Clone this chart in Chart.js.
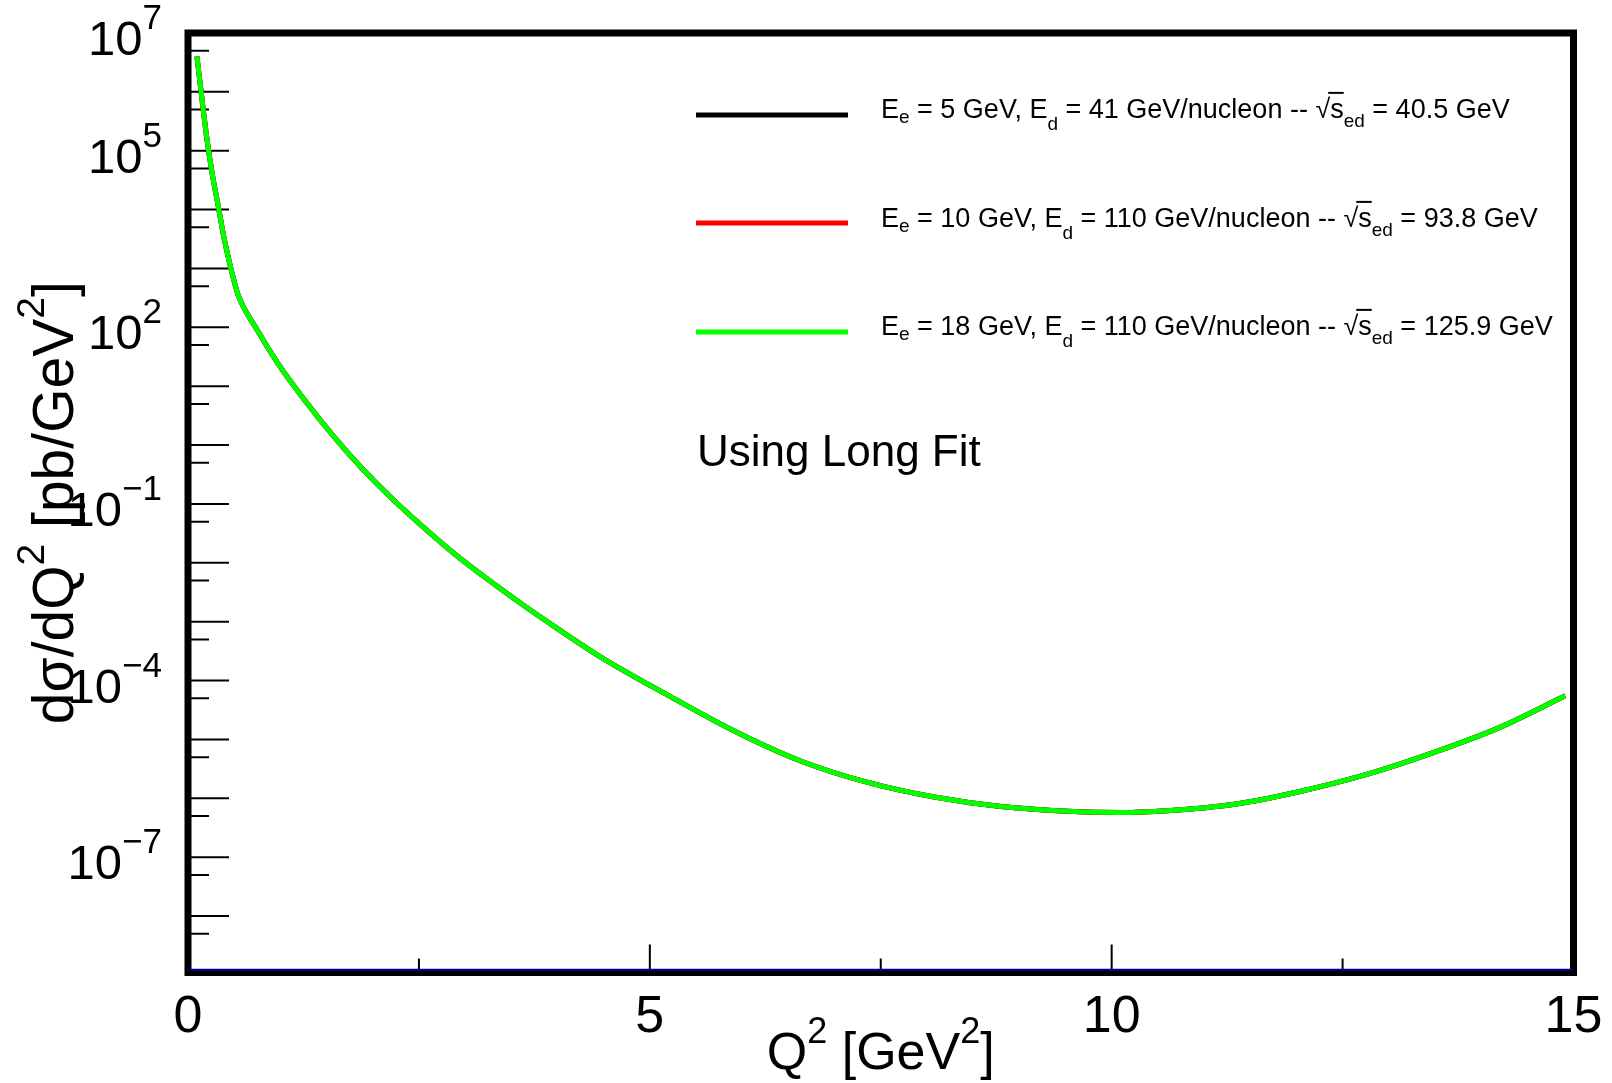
<!DOCTYPE html>
<html>
<head>
<meta charset="utf-8">
<script src="https://cdn.jsdelivr.net/npm/chart.js@4.4.0/dist/chart.umd.min.js"></script>
<style>
html,body{margin:0;padding:0;background:#ffffff;}
#wrap{width:1612px;height:1083px;position:relative;}
</style>
</head>
<body>
<div id="wrap"><canvas id="c" width="1612" height="1083"></canvas></div>
<script>
// ---------------- data ----------------
const q2 = [0.097, 0.151, 0.205, 0.26, 0.332, 0.386, 0.458, 0.50, 0.545, 0.728, 0.973, 1.262, 1.586, 1.875, 2.163, 2.523, 2.884, 3.244, 3.605, 3.965, 4.50, 5.198, 5.919, 6.64, 7.36, 8.08, 8.80, 9.52, 10.1, 10.6, 11.33, 12.05, 12.77, 13.49, 14.21, 14.91];

// E_e = 18 GeV, E_d = 110 GeV/nucleon (visible green curve), pb/GeV^2
const sigmaE18 = [3.98e6, 7.6e5, 1.58e5, 4.27e4, 1.05e4, 3550, 1100, 603, 347, 102, 24.5, 5.82, 1.35, 0.417, 0.145, 0.0437, 0.0143, 5.25e-3, 2.04e-3, 8.32e-4, 2.34e-4, 5.62e-5, 1.38e-5, 4.27e-6, 1.86e-6, 1.05e-6, 7.24e-7, 6.03e-7, 5.75e-7, 6.17e-7, 7.94e-7, 1.32e-6, 2.57e-6, 6.03e-6, 1.62e-5, 5.5e-5];
// E_e = 10 GeV and E_e = 5 GeV curves lie under the green one in the picture
const sigmaE10 = [3.98e6, 7.6e5, 1.58e5, 4.27e4, 1.05e4, 3550, 1100, 603, 347, 102, 24.5, 5.82, 1.35, 0.417, 0.145, 0.0437, 0.0143, 5.25e-3, 2.04e-3, 8.32e-4, 2.34e-4, 5.62e-5, 1.38e-5, 4.27e-6, 1.86e-6, 1.05e-6, 7.24e-7, 6.03e-7, 5.75e-7, 6.17e-7, 7.94e-7, 1.32e-6, 2.57e-6, 6.03e-6, 1.62e-5, 5.5e-5];
const sigmaE5 = [3.98e6, 7.6e5, 1.58e5, 4.27e4, 1.05e4, 3550, 1100, 603, 347, 102, 24.5, 5.82, 1.35, 0.417, 0.145, 0.0437, 0.0143, 5.25e-3, 2.04e-3, 8.32e-4, 2.34e-4, 5.62e-5, 1.38e-5, 4.27e-6, 1.86e-6, 1.05e-6, 7.24e-7, 6.03e-7, 5.75e-7, 6.17e-7, 7.94e-7, 1.32e-6, 2.57e-6, 6.03e-6, 1.62e-5, 5.5e-5];

// dark blue line along the bottom of the frame
const baseQ2 = [0, 15];
const baseSigma = [1.22e-9, 1.22e-9];

const seriesLabels = [
  'Ee = 5 GeV, Ed = 41 GeV/nucleon -- √sed = 40.5 GeV',
  'Ee = 10 GeV, Ed = 110 GeV/nucleon -- √sed = 93.8 GeV',
  'Ee = 18 GeV, Ed = 110 GeV/nucleon -- √sed = 125.9 GeV'
];
const beamEe = ['5', '10', '18'];
const beamEd = ['41', '110', '110'];
const sqrtSed = ['40.5', '93.8', '125.9'];
const seriesColors = ['#000000', '#ff0000', '#00ff00'];

// axes
const xMin = 0, xMax = 15;
const yMin = 1.1e-9, yMax = 1e7;
const xMajorTicks = [0, 5, 10, 15];
const xMinorTicks = [2.5, 7.5, 12.5];
const xTickLabels = ['0', '5', '10', '15'];
const yMajorTicks = [1e-8, 1e-7, 1e-6, 1e-5, 1e-4, 1e-3, 1e-2, 1e-1, 1, 10, 100, 1e3, 1e4, 1e5, 1e6, 1e7];
const yMinorTicks = [5e-9, 5e-8, 5e-7, 5e-6, 5e-5, 5e-4, 5e-3, 5e-2, 0.5, 5, 50, 500, 5e3, 5e4, 5e5, 5e6];
const yLabelTicks = [1e7, 1e5, 1e2, 1e-1, 1e-4, 1e-7];
const yLabelExps = ['7', '5', '2', '\u22121', '\u22124', '\u22127'];
const noteText = 'Using Long Fit';

// ---------------- helpers ----------------
const FONT = '"Liberation Sans", Arial, Helvetica, sans-serif';
function pts(xs, ys){ return xs.map((x, i) => ({x: x, y: ys[i]})); }

function richWidth(ctx, parts){
  let w = 0;
  for (const p of parts){
    ctx.font = p.size + 'px ' + FONT;
    if (p.sqrt){
      w += ctx.measureText('\u221a').width + ctx.measureText(p.sqrt).width;
    } else {
      w += ctx.measureText(p.t).width;
    }
  }
  return w;
}
function drawRich(ctx, x, y, parts){
  let cx = x;
  ctx.textAlign = 'left';
  ctx.textBaseline = 'alphabetic';
  for (const p of parts){
    ctx.font = p.size + 'px ' + FONT;
    if (p.sqrt){
      const rw = ctx.measureText('\u221a').width;
      const sw = ctx.measureText(p.sqrt).width;
      ctx.fillText('\u221a', cx, y);
      ctx.fillText(p.sqrt, cx + rw, y);
      ctx.save();
      ctx.lineWidth = 2;
      ctx.beginPath();
      ctx.moveTo(cx + rw - 2, y - p.size * 0.93);
      ctx.lineTo(cx + rw + sw, y - p.size * 0.93);
      ctx.stroke();
      ctx.restore();
      cx += rw + sw;
    } else {
      ctx.fillText(p.t, cx, y + (p.off || 0));
      cx += ctx.measureText(p.t).width;
    }
  }
  return cx - x;
}

const decor = {
  id: 'decor',
  beforeDatasetsDraw(chart){
    const {ctx, chartArea: a, scales: {x, y}} = chart;
    ctx.save();
    ctx.strokeStyle = '#000';
    ctx.lineWidth = 2;
    ctx.beginPath();
    yMajorTicks.forEach(v => { const py = y.getPixelForValue(v); ctx.moveTo(a.left, py); ctx.lineTo(a.left + 41, py); });
    yMinorTicks.forEach(v => { const py = y.getPixelForValue(v); ctx.moveTo(a.left, py); ctx.lineTo(a.left + 21, py); });
    xMajorTicks.forEach(v => { const px = x.getPixelForValue(v); ctx.moveTo(px, a.bottom); ctx.lineTo(px, a.bottom - 28); });
    xMinorTicks.forEach(v => { const px = x.getPixelForValue(v); ctx.moveTo(px, a.bottom); ctx.lineTo(px, a.bottom - 14); });
    ctx.stroke();
    ctx.lineWidth = 7;
    ctx.strokeRect(a.left, a.top, a.right - a.left, a.bottom - a.top);
    ctx.restore();
  },
  afterDraw(chart){
    const {ctx, chartArea: a, scales: {x, y}} = chart;
    ctx.save();
    ctx.fillStyle = '#000';
    // y tick labels 10^n
    yLabelTicks.forEach((v, i) => {
      const py = y.getPixelForValue(v);
      const base = py + 22;
      ctx.font = '35px ' + FONT;
      ctx.textAlign = 'right';
      ctx.textBaseline = 'alphabetic';
      const sw = ctx.measureText(yLabelExps[i]).width;
      ctx.fillText(yLabelExps[i], 162, base - 26);
      ctx.font = '49px ' + FONT;
      ctx.fillText('10', 162 - sw, base);
    });
    // x tick labels
    ctx.font = '52px ' + FONT;
    ctx.textAlign = 'center';
    xMajorTicks.forEach((v, i) => {
      ctx.fillText(xTickLabels[i], x.getPixelForValue(v), 1032);
    });
    // x title
    const xt = [
      {t: 'Q', size: 52}, {t: '2', size: 36, off: -26},
      {t: ' [GeV', size: 52}, {t: '2', size: 36, off: -26}, {t: ']', size: 52}
    ];
    const xw = richWidth(ctx, xt);
    drawRich(ctx, (a.left + a.right) / 2 - xw / 2, 1069, xt);
    // y title
    const yt = [
      {t: 'd\u03c3/dQ', size: 57}, {t: '2', size: 39, off: -29},
      {t: ' [pb/GeV', size: 57}, {t: '2', size: 39, off: -29}, {t: ']', size: 57}
    ];
    ctx.save();
    ctx.translate(73, (a.top + a.bottom) / 2);
    ctx.rotate(-Math.PI / 2);
    const yw = richWidth(ctx, yt);
    drawRich(ctx, -yw / 2, 0, yt);
    ctx.restore();
    // legend
    const lineY = [115, 223, 332];
    const textY = [118, 227, 335];
    for (let i = 0; i < 3; i++){
      ctx.strokeStyle = seriesColors[i];
      ctx.lineWidth = 5;
      ctx.beginPath();
      ctx.moveTo(696, lineY[i]);
      ctx.lineTo(848, lineY[i]);
      ctx.stroke();
      ctx.fillStyle = '#000';
      ctx.strokeStyle = '#000';
      drawRich(ctx, 881, textY[i], [
        {t: 'E', size: 27}, {t: 'e', size: 19, off: 5},
        {t: ' = ' + beamEe[i] + ' GeV, E', size: 27}, {t: 'd', size: 19, off: 12},
        {t: ' = ' + beamEd[i] + ' GeV/nucleon -- ', size: 27},
        {sqrt: 's', size: 27}, {t: 'ed', size: 19, off: 9},
        {t: ' = ' + sqrtSed[i] + ' GeV', size: 27}
      ]);
    }
    // note
    ctx.font = '44px ' + FONT;
    ctx.textAlign = 'left';
    ctx.fillText(noteText, 697, 466);
    ctx.restore();
  }
};

new Chart(document.getElementById('c'), {
  type: 'line',
  data: {
    datasets: [
      {label: seriesLabels[0], data: pts(q2, sigmaE5), borderColor: seriesColors[0], borderWidth: 5, pointRadius: 0, order: 3},
      {label: seriesLabels[1], data: pts(q2, sigmaE10), borderColor: seriesColors[1], borderWidth: 5, pointRadius: 0, order: 2},
      {label: seriesLabels[2], data: pts(q2, sigmaE18), borderColor: seriesColors[2], borderWidth: 5, pointRadius: 0, order: 1},
      {label: 'frame baseline', data: pts(baseQ2, baseSigma), borderColor: '#000099', borderWidth: 2, pointRadius: 0, order: 4}
    ]
  },
  options: {
    responsive: false,
    animation: false,
    devicePixelRatio: 1,
    layout: {padding: {left: 188, right: 38.5, top: 33, bottom: 110.5}},
    plugins: {legend: {display: false}, tooltip: {enabled: false}, title: {display: false}},
    elements: {line: {cubicInterpolationMode: 'monotone', fill: false}},
    scales: {
      x: {type: 'linear', min: xMin, max: xMax, display: false},
      y: {type: 'logarithmic', min: yMin, max: yMax, display: false}
    }
  },
  plugins: [decor]
});
</script>
</body>
</html>
